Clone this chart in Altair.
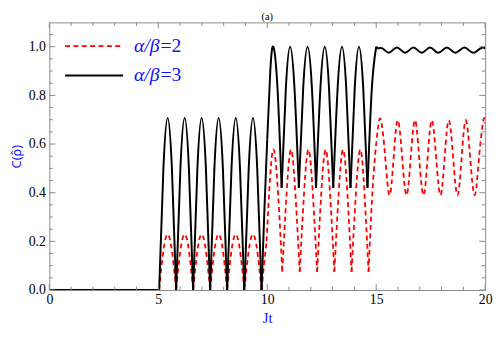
import altair as alt
import pandas as pd

# ---------------- data ----------------
# each inner list is one piece of the curve (pieces meet at the cusps)
black_t = [
    [0, 5.04],
    [5.04, 5.235, 5.43, 5.625, 5.82],
    [5.82, 6.015, 6.21, 6.405, 6.60],
    [6.60, 6.795, 6.99, 7.185, 7.38],
    [7.38, 7.575, 7.77, 7.965, 8.16],
    [8.16, 8.36, 8.555, 8.75, 8.95],
    [8.95, 9.15, 9.345, 9.54, 9.74],
    [9.74, 9.87, 10.0],
    [10.0, 10.14, 10.28, 10.47, 10.66],
    [10.66, 10.855, 11.05, 11.25, 11.45],
    [11.45, 11.65, 11.85, 12.05, 12.24],
    [12.24, 12.44, 12.64, 12.835, 13.03],
    [13.03, 13.23, 13.43, 13.625, 13.82],
    [13.82, 14.015, 14.21, 14.405, 14.60],
    [14.60, 14.80, 15.0],
    [15.0, 15.1, 15.2, 15.39, 15.57, 15.76, 15.95, 16.14, 16.33, 16.52, 16.71,
     16.90, 17.09, 17.28, 17.47, 17.66, 17.85, 18.05, 18.24, 18.44, 18.64,
     18.84, 19.05, 19.25, 19.46, 19.67, 19.88, 20.0],
]
black_c = [
    [0, 0],
    [0, 0.50, 0.707, 0.50, 0],
    [0, 0.50, 0.707, 0.50, 0],
    [0, 0.50, 0.707, 0.50, 0],
    [0, 0.50, 0.707, 0.50, 0],
    [0, 0.50, 0.707, 0.50, 0],
    [0, 0.50, 0.707, 0.50, 0],
    [0, 0.33, 0.62],
    [0.62, 0.90, 1.0, 0.83, 0.42],
    [0.42, 0.83, 1.0, 0.83, 0.42],
    [0.42, 0.83, 1.0, 0.83, 0.42],
    [0.42, 0.83, 1.0, 0.83, 0.42],
    [0.42, 0.83, 1.0, 0.83, 0.42],
    [0.42, 0.83, 1.0, 0.83, 0.42],
    [0.42, 0.83, 1.0],
    [1.0, 0.993, 0.996, 0.986, 0.975, 0.986, 0.997, 0.986, 0.975, 0.986, 0.997,
     0.986, 0.975, 0.986, 0.997, 0.986, 0.975, 0.986, 0.997, 0.986, 0.975,
     0.986, 0.997, 0.986, 0.975, 0.986, 0.997, 0.993],
]

red_t = [
    [0, 5.04],
    [5.04, 5.235, 5.43, 5.625, 5.82],
    [5.82, 6.015, 6.21, 6.405, 6.60],
    [6.60, 6.795, 6.99, 7.185, 7.38],
    [7.38, 7.575, 7.77, 7.965, 8.16],
    [8.16, 8.36, 8.555, 8.75, 8.95],
    [8.95, 9.15, 9.345, 9.54, 9.74],
    [9.74, 9.86, 9.97],
    [9.97, 10.13, 10.30, 10.495, 10.69],
    [10.69, 10.89, 11.09, 11.29, 11.49],
    [11.49, 11.69, 11.89, 12.09, 12.29],
    [12.29, 12.48, 12.68, 12.88, 13.08],
    [13.08, 13.28, 13.48, 13.675, 13.87],
    [13.87, 14.07, 14.27, 14.46, 14.65],
    [14.65, 14.80, 14.95],
    [14.95, 15.08, 15.22, 15.415, 15.61, 15.80, 15.99, 16.19, 16.39, 16.585,
     16.78, 16.97, 17.17, 17.36, 17.55, 17.75, 17.95, 18.14, 18.33, 18.53,
     18.73, 18.92, 19.11, 19.31, 19.52, 19.72, 19.92, 20.0],
]
red_c = [
    [0, 0],
    [0, 0.162, 0.229, 0.162, 0],
    [0, 0.162, 0.229, 0.162, 0],
    [0, 0.162, 0.229, 0.162, 0],
    [0, 0.162, 0.229, 0.162, 0],
    [0, 0.162, 0.229, 0.162, 0],
    [0, 0.162, 0.229, 0.162, 0],
    [0, 0.11, 0.20],
    [0.20, 0.46, 0.577, 0.40, 0.075],
    [0.075, 0.40, 0.577, 0.40, 0.075],
    [0.075, 0.40, 0.577, 0.40, 0.075],
    [0.075, 0.40, 0.577, 0.40, 0.075],
    [0.075, 0.40, 0.577, 0.40, 0.075],
    [0.075, 0.40, 0.577, 0.40, 0.075],
    [0.075, 0.36, 0.557],
    [0.557, 0.665, 0.698, 0.545, 0.39, 0.545, 0.698, 0.545, 0.39, 0.545,
     0.698, 0.545, 0.39, 0.545, 0.698, 0.545, 0.39, 0.545, 0.698, 0.545,
     0.39, 0.545, 0.698, 0.545, 0.39, 0.545, 0.698, 0.685],
]

legend_labels = ["α/β=2", "α/β=3"]
x_major = [0, 5, 10, 15, 20]
x_minor = [1, 2, 3, 4, 6, 7, 8, 9, 11, 12, 13, 14, 16, 17, 18, 19]
y_major = [0.0, 0.2, 0.4, 0.6, 0.8, 1.0]
y_minor = [0.05, 0.1, 0.15, 0.25, 0.3, 0.35, 0.45, 0.5, 0.55, 0.65, 0.7,
           0.75, 0.85, 0.9, 0.95, 1.05]

# ---------------- build tables ----------------
def table(ts, cs):
    rows = []
    for i, (tt, cc) in enumerate(zip(ts, cs)):
        for a, b in zip(tt, cc):
            rows.append({"t": a, "C": b, "seg": i})
    return pd.DataFrame(rows)

df_black = table(black_t, black_c)
df_red = table(red_t, red_c)

W, H = 443, 272
GRAY = "#8a8a8a"
SERIF = "Liberation Serif"
SANS = "Noto Sans"
BLUE = "#1010ff"

xs = alt.Scale(domain=[0, 20], nice=False, zero=False)
ys = alt.Scale(domain=[0, 1.1], nice=False, zero=False)

xaxis = alt.Axis(values=x_major, format="d", ticks=False, domain=False, grid=False,
                 labelFont=SERIF, labelFontSize=14, labelColor="black",
                 labelPadding=3, labelFlush=False, labelOverlap=False,
                 title="Jt", titleFont=SERIF, titleFontSize=15,
                 titleColor=BLUE, titleFontWeight="normal", titlePadding=4)
yaxis = alt.Axis(values=y_major, format=".1f", ticks=False, domain=False, grid=False,
                 labelFont=SERIF, labelFontSize=14, labelColor="black",
                 labelPadding=4, labelFlush=False, labelOverlap=False,
                 title="C(ρ̂)", titleFont=SANS, titleFontSize=13,
                 titleColor=BLUE, titleFontWeight="normal", titlePadding=5)

red = alt.Chart(df_red).mark_line(
    color="#ff0000", strokeDash=[5, 3.5], strokeWidth=1.8,
    interpolate="natural", clip=True
).encode(
    x=alt.X("t:Q", scale=xs, axis=xaxis),
    y=alt.Y("C:Q", scale=ys, axis=yaxis),
    detail="seg:N",
)

black = alt.Chart(df_black).mark_line(
    color="black", strokeWidth=2, interpolate="natural", clip=True
).encode(
    x=alt.X("t:Q", scale=xs),
    y=alt.Y("C:Q", scale=ys),
    detail="seg:N",
)

def xticks(vals, length):
    d = pd.DataFrame({"v": vals})
    bot = alt.Chart(d).mark_rule(color=GRAY, strokeWidth=1).encode(
        x=alt.X("v:Q", scale=xs), y=alt.value(H), y2=alt.value(H - length))
    top = alt.Chart(d).mark_rule(color=GRAY, strokeWidth=1).encode(
        x=alt.X("v:Q", scale=xs), y=alt.value(0), y2=alt.value(length))
    return [bot, top]

def yticks(vals, length):
    d = pd.DataFrame({"v": vals})
    left = alt.Chart(d).mark_rule(color=GRAY, strokeWidth=1).encode(
        y=alt.Y("v:Q", scale=ys), x=alt.value(0), x2=alt.value(length))
    right = alt.Chart(d).mark_rule(color=GRAY, strokeWidth=1).encode(
        y=alt.Y("v:Q", scale=ys), x=alt.value(W), x2=alt.value(W - length))
    return [left, right]

ticks = xticks(x_major, 6) + xticks(x_minor, 3.5) + yticks(y_major, 6) + yticks(y_minor, 3.5)

one = pd.DataFrame({"a": [0]})
leg_red = alt.Chart(one).mark_rule(color="#ff0000", strokeDash=[5, 3.5], strokeWidth=1.8).encode(
    x=alt.value(16), x2=alt.value(75), y=alt.value(24))
leg_black = alt.Chart(one).mark_rule(color="black", strokeWidth=2).encode(
    x=alt.value(16), x2=alt.value(75), y=alt.value(54))

def leg_text(label, y):
    greek, rest = label.split("=")
    t1 = alt.Chart(one).mark_text(align="left", baseline="middle", font=SERIF,
                                  fontSize=20, fontStyle="italic", color=BLUE).encode(
        x=alt.value(86), y=alt.value(y), text=alt.value(greek))
    t2 = alt.Chart(one).mark_text(align="left", baseline="middle", font=SERIF,
                                  fontSize=20, color=BLUE).encode(
        x=alt.value(113), y=alt.value(y), text=alt.value("=" + rest))
    return [t1, t2]

legend = [leg_red, leg_black] + leg_text(legend_labels[0], 24) + leg_text(legend_labels[1], 54)

title_txt = alt.Chart(one).mark_text(align="center", baseline="alphabetic", font=SERIF,
                                     fontSize=10.5, color="black").encode(
    x=alt.value(W / 2), y=alt.value(-2.5), text=alt.value("(a)"))

chart = alt.layer(red, black, *ticks, *legend, title_txt).properties(
    width=W, height=H,
    autosize=alt.AutoSizeParams(type="none"),
    padding={"left": 42, "top": 12, "right": 10, "bottom": 38},
).configure_view(stroke=GRAY, strokeWidth=1)

chart.save("out.html", embed_options={"renderer": "svg", "actions": False})
